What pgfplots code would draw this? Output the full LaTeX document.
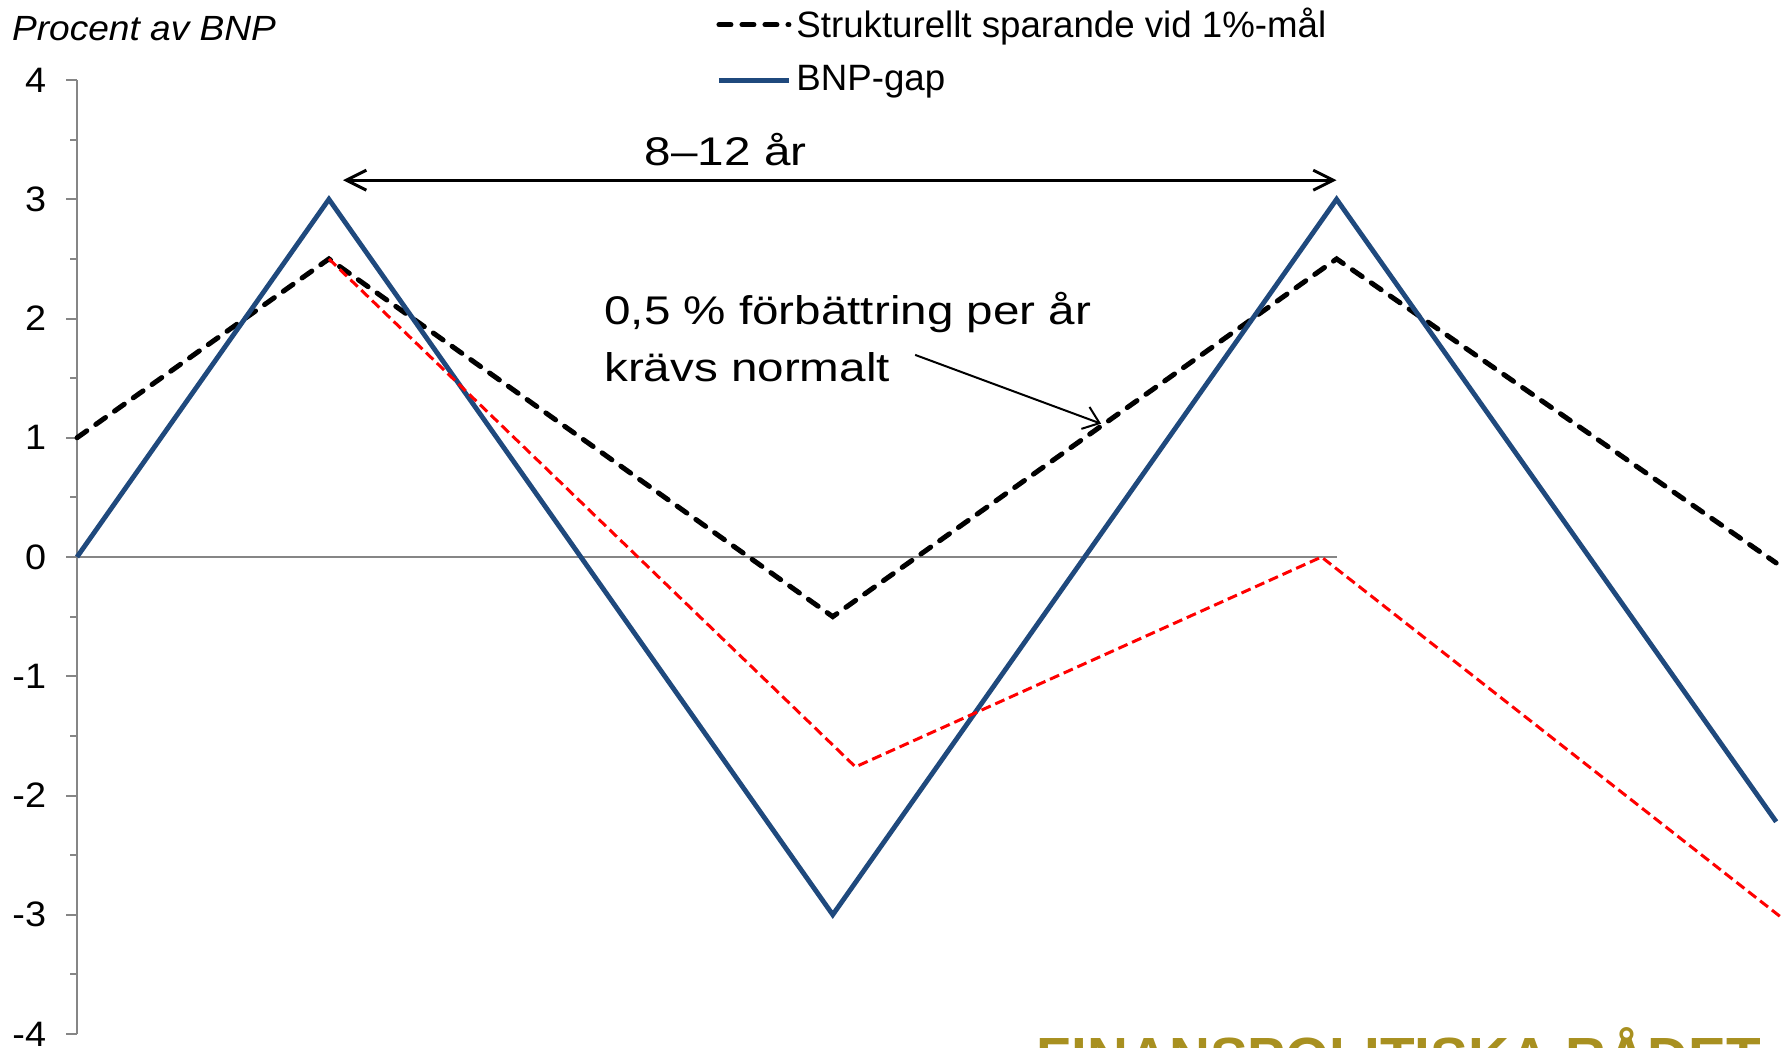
\documentclass[border=0pt]{standalone}
\usepackage{fontspec}
\setmainfont{Liberation Sans}
\usepackage{pgfplots}
\pgfplotsset{compat=1.18}
\usetikzlibrary{arrows.meta}
\definecolor{bnpblue}{RGB}{31,73,125}
\definecolor{axisgray}{RGB}{134,134,134}
\definecolor{fpgold}{RGB}{168,144,32}
\begin{document}
\begin{tikzpicture}
\useasboundingbox (0,0) rectangle (535.5pt,314.1pt);
\begin{axis}[
  at={(23.1pt,3.9pt)}, anchor=south west,
  scale only axis, width=512.4pt, height=286.2pt,
  xmin=0, xmax=6.78, ymin=-4, ymax=4,
  clip=false,
  axis x line=none,
  axis y line=left,
  y axis line style={-, color=axisgray, line width=0.6pt},
  ytick={-4,-3,-2,-1,0,1,2,3,4},
  yticklabels={-4,-3,-2,-1,0,1,2,3,4},
  minor y tick num=1,
  tick align=outside,
  major tick length=3.3pt,
  minor tick length=2.1pt,
  ytick style={color=axisgray, line width=0.6pt},
  yticklabel style={anchor=east, inner sep=0pt, font=\fontsize{10.6}{12}\selectfont, xscale=1.07, xshift=-5.4pt, text=black},
  legend style={at={(0.374,1.082)}, anchor=north west, draw=none, fill=none,
    font=\fontsize{11}{13}\selectfont, inner sep=0pt, row sep=4pt,
    nodes={inner sep=1.5pt}},
  legend cell align=left,
  legend image code/.code={\draw[#1] (0pt,0pt) -- (21pt,0pt);},
]
\addplot[color=axisgray, line width=0.6pt, forget plot] coordinates {(0,0) (5,0)};

\addplot[black, line width=1.5pt, line cap=round, dash pattern=on 3.6pt off 3.3pt]
  coordinates {(0,1) (1,2.5) (3,-0.5) (5,2.5) (6.745,-0.05)};
\addlegendentry{Strukturellt sparande vid 1\%-mål}

\addplot[bnpblue, line width=1.45pt]
  coordinates {(0,0) (1,3) (3,-3) (5,3) (6.745,-2.22)};
\addlegendentry{BNP-gap}

\addplot[red, line width=0.9pt, dash pattern=on 3pt off 1.5pt, forget plot]
  coordinates {(1,2.5) (3.09,-1.76) (4.94,0) (6.77,-3.03)};

\draw[line width=0.9pt, {Straight Barb[length=6pt,width=6pt]}-{Straight Barb[length=6pt,width=6pt]}]
  (axis cs:1.056,3.16) -- (axis cs:5.0,3.16);
\node[anchor=base, inner sep=0pt, font=\fontsize{12}{14}\selectfont, xscale=1.19] at (axis cs:2.575,3.285) {8–12 år};
\node[anchor=base west, inner sep=0pt, font=\fontsize{12}{14}\selectfont, xscale=1.19] at (axis cs:2.090,1.952) {0,5 \% förbättring per år};
\node[anchor=base west, inner sep=0pt, font=\fontsize{12}{14}\selectfont, xscale=1.19] at (axis cs:2.090,1.474) {krävs normalt};
\draw[line width=0.6pt, -{Straight Barb[length=4.5pt,width=7pt]}]
  (axis cs:3.327,1.695) -- (axis cs:4.065,1.118);
\node[anchor=base west, inner sep=0pt, font=\itshape\fontsize{10.5}{12}\selectfont, xscale=1.06] at (axis cs:-0.2606,4.335) {Procent av BNP};
\node[anchor=base west, inner sep=0pt, font=\bfseries\fontsize{17}{20}\selectfont, text=fpgold] at (axis cs:3.808,-4.363) {FINANSPOLITISKA RÅDET};
\end{axis}
\end{tikzpicture}
\end{document}
